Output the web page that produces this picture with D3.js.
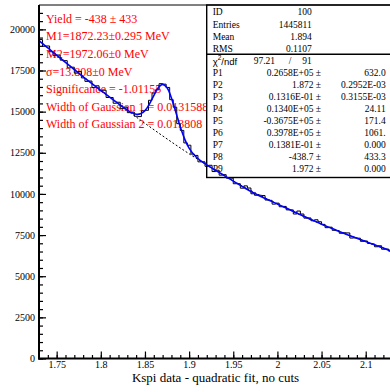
<!DOCTYPE html>
<html>
<head>
<meta charset="utf-8">
<script src="https://cdn.jsdelivr.net/npm/d3@7/dist/d3.min.js"></script>
<style>
  body { margin: 0; background: #fff; }
  svg { display: block; }
  text { font-family: "Liberation Serif", "DejaVu Serif", serif; }
</style>
</head>
<body>
<div id="chart"></div>
<script>
// histogram: 100 bins from 1.73, width 0.004
const binLow = 1.73;
const binWidth = 0.004;
const binCounts = [
  19380, 18970, 18990, 18640, 18400, 18440, 18130, 18100, 17660, 17700,
  17340, 17440, 17050, 16840, 16860, 16460, 16570, 16260, 16300, 15860,
  15860, 15510, 15570, 15180, 15280, 14940, 14970, 14720, 14700, 15050,
  15080, 15690, 16130, 16330, 16700, 16670, 16470, 15730, 15270, 14270,
  13860, 13100, 12960, 12420, 12340, 11950, 11950, 11680, 11740, 11360,
  11440, 11140, 11170, 10960, 10960, 10620, 10620, 10350, 10490, 10360,
  10010, 9920, 9920, 9900, 9630, 9610, 9380, 9440, 9220, 9240,
  9030, 9030, 8780, 8960, 8780, 8530, 8540, 8370, 8430, 8310,
  8150, 7950, 7980, 7790, 7770, 7610, 7640, 7630, 7320, 7330,
  7310, 7120, 7140, 6990, 6960, 6790, 6850, 6640, 6650, 6520
];

// total fit (blue)
const fitX = [1.73, 1.74, 1.75, 1.76, 1.77, 1.78, 1.79, 1.80, 1.81, 1.82,
  1.825, 1.83, 1.835, 1.84, 1.845, 1.85, 1.855, 1.86, 1.865, 1.87,
  1.875, 1.88, 1.885, 1.89, 1.895, 1.90, 1.905, 1.91, 1.915, 1.92,
  1.93, 1.94, 1.95, 1.96, 1.97, 1.98, 1.99, 2.00, 2.01, 2.02,
  2.03, 2.04, 2.05, 2.06, 2.07, 2.08, 2.09, 2.10, 2.11, 2.12, 2.13];
const fitY = [19320, 18870, 18440, 17990, 17550, 17120, 16700, 16290, 15880, 15481,
  15285, 15099, 14940, 14841, 14865, 15061, 15456, 15978, 16452, 16656,
  16445, 15822, 14961, 14078, 13333, 12785, 12415, 12153, 11946, 11764,
  11430, 11110, 10776, 10456, 10150, 9878, 9629, 9384, 9140, 8890,
  8640, 8400, 8160, 7940, 7720, 7510, 7310, 7110, 6910, 6710, 6510];

// quadratic background (dashed)
const bgX = [1.73, 1.75, 1.80, 1.85, 1.90, 1.95, 2.00, 2.05, 2.10, 2.13];
const bgY = [19320, 18440, 16290, 14290, 12440, 10790, 9390, 8160, 7110, 6510];

const yMajor = [0, 2500, 5000, 7500, 10000, 12500, 15000, 17500, 20000];
const xMajor = [1.75, 1.8, 1.85, 1.9, 1.95, 2.0, 2.05, 2.1];

const fitLabels = [
  "Yield = -438 \u00b1 433",
  "M1=1872.23\u00b10.295 MeV",
  "M2=1972.06\u00b10 MeV",
  "\u03c3=13.808\u00b10 MeV",
  "Significance = -1.01155",
  "Width of Gaussian 1 =  0.0131588",
  "Width of Gaussian 2 =  0.013808"
];

const statNames = ["ID", "Entries", "Mean", "RMS"];
const statValues = ["100", "1445811", "1.894", "0.1107"];
const chi2 = ["97.21", "91"];
const parNames = ["P1", "P2", "P3", "P4", "P5", "P6", "P7", "P8", "P9"];
const parValues = ["0.2658E+05", "1.872", "0.1316E-01", "0.1340E+05", "-0.3675E+05",
  "0.3978E+05", "0.1381E-01", "-438.7", "1.972"];
const parErrors = ["632.0", "0.2952E-03", "0.3155E-03", "24.11", "171.4",
  "1061.", "0.000", "433.3", "0.000"];

const w = 390, h = 392;
const svg = d3.select("#chart").append("svg")
  .attr("width", w)
  .attr("height", h);

const x = d3.scaleLinear().domain([1.73, 2.13]).range([39, 392.2]);
const y = d3.scaleLinear().domain([0, 21480]).range([358.5, 5]);

// fit result text (under the stats box)
svg.append("g").selectAll("text")
  .data(fitLabels)
  .enter().append("text")
  .attr("x", 46)
  .attr("y", (d, i) => 22.7 + i * 17.6)
  .attr("fill", "#ff0000")
  .attr("font-size", 12)
  .text(d => d);

// stats box
const box = svg.append("g");
box.append("rect")
  .attr("x", 206.7).attr("y", 5)
  .attr("width", 200).attr("height", 172.5)
  .attr("fill", "#fff")
  .attr("stroke", "#000")
  .attr("stroke-width", 1.4);
box.append("line")
  .attr("x1", 206.7).attr("x2", 400)
  .attr("y1", 54.3).attr("y2", 54.3)
  .attr("stroke", "#000").attr("stroke-width", 1.4);

statNames.forEach((n, i) => {
  const yy = 12.4 + i * 12.1;
  box.append("text").attr("x", 212.7).attr("y", yy)
    .attr("dominant-baseline", "central").attr("font-size", 9.5).text(n);
  box.append("text").attr("x", 311.7).attr("y", yy)
    .attr("dominant-baseline", "central").attr("text-anchor", "end")
    .attr("font-size", 9.5).text(statValues[i]);
});

const chiRow = 60.7;
const chiLbl = box.append("text").attr("x", 212.7).attr("y", chiRow)
  .attr("dominant-baseline", "central")
  .style("font-family", "'Liberation Sans', Arial, sans-serif")
  .attr("font-size", 9.5);
chiLbl.append("tspan").text("\u03c7");
chiLbl.append("tspan").attr("dy", -3.5).attr("font-size", 6.5).text("2");
chiLbl.append("tspan").attr("dy", 3.5).text("/ndf");
box.append("text").attr("x", 275).attr("y", chiRow)
  .attr("dominant-baseline", "central").attr("text-anchor", "end")
  .attr("font-size", 9.5).text(chi2[0]);
box.append("text").attr("x", 290).attr("y", chiRow)
  .attr("dominant-baseline", "central").attr("text-anchor", "middle")
  .attr("font-size", 9.5).text("/");
box.append("text").attr("x", 311.7).attr("y", chiRow)
  .attr("dominant-baseline", "central").attr("text-anchor", "end")
  .attr("font-size", 9.5).text(chi2[1]);

parNames.forEach((n, i) => {
  const yy = 72.8 + i * 12.07;
  box.append("text").attr("x", 212.7).attr("y", yy)
    .attr("dominant-baseline", "central").attr("font-size", 9.5).text(n);
  box.append("text").attr("x", 321).attr("y", yy)
    .attr("dominant-baseline", "central").attr("text-anchor", "end")
    .attr("font-size", 9.5).text(parValues[i] + " \u00b1");
  box.append("text").attr("x", 385.7).attr("y", yy)
    .attr("dominant-baseline", "central").attr("text-anchor", "end")
    .attr("font-size", 9.5).text(parErrors[i]);
});

// histogram outline as steps
const histPts = binCounts.map((c, i) => [binLow + i * binWidth, c]);
histPts.push([binLow + binCounts.length * binWidth, binCounts[binCounts.length - 1]]);
svg.append("path")
  .datum(histPts)
  .attr("d", d3.line().x(d => x(d[0])).y(d => y(d[1])).curve(d3.curveStepAfter))
  .attr("fill", "none")
  .attr("stroke", "#000")
  .attr("stroke-width", 1);

// background dashed
svg.append("path")
  .datum(bgX.map((v, i) => [v, bgY[i]]))
  .attr("d", d3.line().x(d => x(d[0])).y(d => y(d[1])).curve(d3.curveCatmullRom))
  .attr("fill", "none")
  .attr("stroke", "#000")
  .attr("stroke-width", 1)
  .attr("stroke-dasharray", "2,2");

// total fit
svg.append("path")
  .datum(fitX.map((v, i) => [v, fitY[i]]))
  .attr("d", d3.line().x(d => x(d[0])).y(d => y(d[1])).curve(d3.curveCatmullRom))
  .attr("fill", "none")
  .attr("stroke", "#0000ff")
  .attr("stroke-width", 1.6);

// frame top
svg.append("line")
  .attr("x1", 39).attr("x2", 392).attr("y1", 5).attr("y2", 5)
  .attr("stroke", "#000").attr("stroke-width", 1);

// y axis
const yAxis = g => {
  g.call(d3.axisLeft(y).tickValues(yMajor).tickSize(-7).tickPadding(4).tickFormat(d3.format("d")));
  g.select(".domain").remove();
  g.selectAll("text").attr("font-size", 10).attr("font-family", "'Liberation Serif', serif").attr("fill", "#000");
  g.selectAll("line").attr("stroke-width", 1.2);
};
svg.append("g").attr("transform", "translate(39,0)").call(yAxis);
svg.append("g").attr("transform", "translate(39,0)")
  .call(d3.axisLeft(y).tickValues(d3.range(0, 21480, 500)).tickSize(-4).tickFormat(""))
  .call(g => g.select(".domain").remove())
  .call(g => g.selectAll("line").attr("stroke-width", 1.2));

// x axis
const xAxis = g => {
  g.call(d3.axisBottom(x).tickValues(xMajor).tickSize(-7).tickPadding(2.5).tickFormat(d => d3.format("")(+d.toFixed(2))));
  g.select(".domain").remove();
  g.selectAll("text").attr("font-size", 10).attr("font-family", "'Liberation Serif', serif").attr("fill", "#000");
  g.selectAll("line").attr("stroke-width", 1.2);
};
svg.append("g").attr("transform", "translate(0,358.5)").call(xAxis);
svg.append("g").attr("transform", "translate(0,358.5)")
  .call(d3.axisBottom(x).tickValues(d3.range(1.74, 2.135, 0.01)).tickSize(-3.5).tickFormat(""))
  .call(g => g.select(".domain").remove())
  .call(g => g.selectAll("line").attr("stroke-width", 1.2));

// axis lines
svg.append("line").attr("x1", 39).attr("x2", 39).attr("y1", 5).attr("y2", 359.5)
  .attr("stroke", "#000").attr("stroke-width", 2);
svg.append("line").attr("x1", 38).attr("x2", 392).attr("y1", 358.5).attr("y2", 358.5)
  .attr("stroke", "#000").attr("stroke-width", 2);

svg.append("text")
  .attr("x", 215.5).attr("y", 382)
  .attr("text-anchor", "middle")
  .attr("font-size", 13)
  .text("Kspi data - quadratic fit, no cuts");
</script>
</body>
</html>
